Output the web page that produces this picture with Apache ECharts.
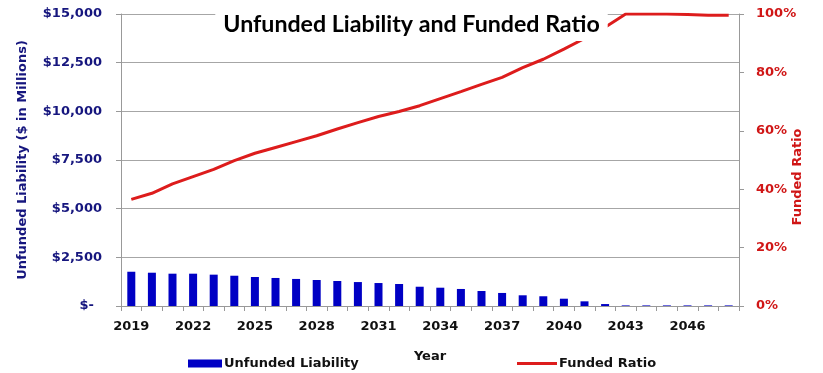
<!DOCTYPE html>
<html>
<head>
<meta charset="utf-8">
<title>Unfunded Liability and Funded Ratio</title>
<script src="https://cdn.jsdelivr.net/npm/echarts@6/dist/echarts.min.js"></script>
<style>
  html, body { margin: 0; padding: 0; background: #fff; }
  #chart { width: 823px; height: 373px; }
</style>
</head>
<body>
<div id="chart"></div>
<script>
// Plan years
const years = [
  '2019','2020','2021','2022','2023','2024','2025','2026','2027','2028',
  '2029','2030','2031','2032','2033','2034','2035','2036','2037','2038',
  '2039','2040','2041','2042','2043','2044','2045','2046','2047','2048'
];

// Unfunded liability, $ millions
const unfundedLiability = [
  1760, 1710, 1660, 1660, 1610, 1555, 1490, 1440, 1390, 1335,
  1285, 1230, 1180, 1130, 990, 940, 875, 770, 670, 550,
  500, 375, 240, 100, 30, 30, 30, 30, 30, 30
];

// Funded ratio, percent
const fundedRatio = [
  36.5, 38.6, 41.8, 44.3, 46.8, 49.8, 52.3, 54.3, 56.3, 58.3,
  60.6, 62.8, 64.9, 66.6, 68.6, 71.0, 73.4, 75.9, 78.3, 81.6,
  84.5, 88.0, 91.6, 95.5, 100, 100, 100, 99.8, 99.6, 99.6
];

// Left axis tick values
const liabilityTicks = [0, 2500, 5000, 7500, 10000, 12500, 15000];

const NAVY = '#16167E';
const BLUE = '#0000C4';
const RED = '#DD1C1C';
const RED_TEXT = '#D01616';
const GRID_GRAY = '#A6A6A6';
const BASE_FONT = 'DejaVu Sans';

const chart = echarts.init(document.getElementById('chart'), null, { renderer: 'canvas' });

function dollars(v) {
  if (v === 0) return '{z|$-}';
  return '$' + v.toLocaleString('en-US');
}

chart.setOption({
  animation: false,
  backgroundColor: '#ffffff',
  title: {
    text: 'Unfunded Liability and Funded Ratio',
    left: 'center',
    top: 0,
    z: 10,
    backgroundColor: '#ffffff',
    padding: [12, 8, 4, 8],
    textStyle: {
      fontFamily: 'Lato',
      fontWeight: 'bold',
      fontSize: 23.2,
      lineHeight: 25,
      color: '#000000'
    }
  },
  legend: [
    {
      data: [{ name: 'Unfunded Liability' }],
      left: 183,
      top: 352,
      icon: 'rect',
      itemWidth: 34,
      itemHeight: 8,
      itemGap: 0,
      textStyle: { fontFamily: BASE_FONT, fontWeight: 'bold', fontSize: 13, color: '#111111', padding: [0, 0, 0, -3] }
    },
    {
      data: [{ name: 'Funded Ratio' }],
      left: 512,
      top: 352,
      icon: 'rect',
      itemWidth: 40,
      itemHeight: 3,
      itemGap: 0,
      textStyle: { fontFamily: BASE_FONT, fontWeight: 'bold', fontSize: 13, color: '#111111', padding: [0, 0, 0, -3] }
    }
  ],
  grid: {
    left: 121,
    right: 84,
    top: 14,
    bottom: 67,
    containLabel: false
  },
  xAxis: {
    type: 'category',
    data: years,
    boundaryGap: true,
    name: 'Year',
    nameLocation: 'middle',
    nameGap: 44,
    nameMoveOverlap: false,
    nameTextStyle: { fontFamily: BASE_FONT, fontWeight: 'bold', fontSize: 13, color: '#111111' },
    axisLine: { show: true, lineStyle: { color: '#999999', width: 1 } },
    axisTick: { show: true, interval: 0, length: 5, lineStyle: { color: '#999999' } },
    axisLabel: {
      interval: 2,
      margin: 14,
      fontFamily: BASE_FONT,
      fontWeight: 'bold',
      fontSize: 13,
      color: '#111111'
    },
    splitLine: { show: false }
  },
  yAxis: [
    {
      type: 'value',
      position: 'left',
      min: liabilityTicks[0],
      max: liabilityTicks[liabilityTicks.length - 1],
      interval: liabilityTicks[1] - liabilityTicks[0],
      name: 'Unfunded Liability ($ in Millions)',
      nameLocation: 'middle',
      nameGap: 92,
      nameMoveOverlap: false,
      nameTextStyle: { fontFamily: BASE_FONT, fontWeight: 'bold', fontSize: 13, color: NAVY },
      axisLine: { show: true, lineStyle: { color: '#999999' } },
      axisTick: { show: true, length: 5, lineStyle: { color: '#999999' } },
      axisLabel: {
        margin: 19,
        fontFamily: BASE_FONT,
        fontWeight: 'bold',
        fontSize: 13,
        color: NAVY,
        formatter: dollars,
        rich: {
          z: { fontFamily: BASE_FONT, fontWeight: 'bold', fontSize: 13, color: NAVY, padding: [0, 8, 0, 0] }
        }
      },
      splitLine: { show: true, lineStyle: { color: GRID_GRAY, width: 1 } }
    },
    {
      type: 'value',
      position: 'right',
      min: 0,
      max: 100,
      interval: 20,
      name: 'Funded Ratio',
      nameLocation: 'middle',
      nameGap: 52,
      nameMoveOverlap: false,
      nameTextStyle: {
        fontFamily: BASE_FONT, fontWeight: 'bold', fontSize: 13, color: RED_TEXT,
        padding: [0, 34, 0, 0]
      },
      axisLine: { show: true, lineStyle: { color: '#999999' } },
      axisTick: { show: true, length: 5, lineStyle: { color: '#999999' } },
      axisLabel: {
        margin: 17,
        fontFamily: BASE_FONT,
        fontWeight: 'bold',
        fontSize: 13,
        color: RED_TEXT,
        formatter: '{value}%'
      },
      splitLine: { show: false }
    }
  ],
  series: [
    {
      name: 'Unfunded Liability',
      type: 'bar',
      yAxisIndex: 0,
      data: unfundedLiability,
      barWidth: 8,
      itemStyle: { color: BLUE },
      z: 2
    },
    {
      name: 'Funded Ratio',
      type: 'line',
      yAxisIndex: 1,
      data: fundedRatio,
      symbol: 'none',
      lineStyle: { color: RED, width: 3 },
      itemStyle: { color: RED },
      z: 3
    }
  ]
});
</script>
</body>
</html>
